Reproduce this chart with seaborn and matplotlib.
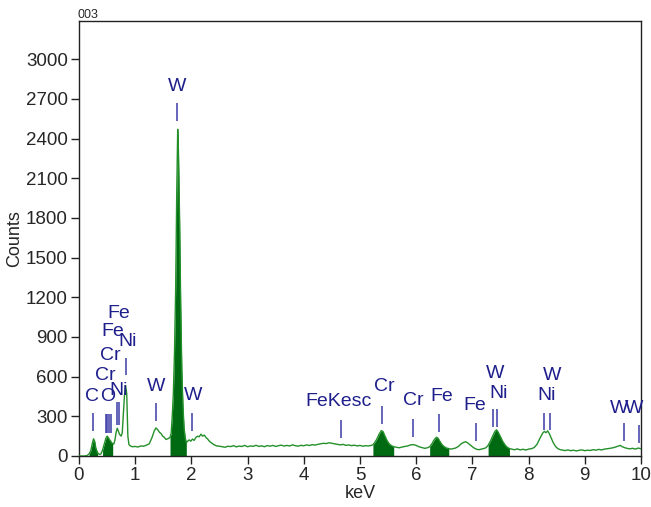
import matplotlib
matplotlib.use("Agg")
import matplotlib.pyplot as plt
import seaborn as sns
import pandas as pd

# --------------------------------------------------
# Spectrum (keV, counts)
# --------------------------------------------------
energy = [
    0.00, 0.10, 0.14, 0.18, 0.21, 0.24, 0.26, 0.28, 0.30, 0.33, 0.36, 0.39,
    0.42, 0.45, 0.48, 0.50, 0.52, 0.54, 0.56, 0.58, 0.60,
    0.62, 0.64, 0.66, 0.68, 0.70, 0.72, 0.75, 0.77, 0.79, 0.81, 0.83, 0.85,
    0.86, 0.87, 0.89, 0.92,
    0.95, 1.00, 1.05, 1.10, 1.15, 1.20, 1.25, 1.30, 1.34, 1.37, 1.40, 1.43,
    1.46, 1.49, 1.52, 1.55, 1.58,
    1.62, 1.64, 1.66, 1.68, 1.70, 1.72, 1.74, 1.757, 1.77, 1.79, 1.81, 1.83,
    1.85, 1.87, 1.89, 1.91,
    1.93, 1.96, 1.99, 2.02, 2.05, 2.08, 2.11, 2.14, 2.17, 2.20, 2.23, 2.26,
    2.29, 2.32, 2.36, 2.40, 2.45,
    2.50, 2.55, 2.60, 2.65, 2.70, 2.75, 2.80, 2.85, 2.90, 2.95, 3.00, 3.05,
    3.10, 3.15, 3.20, 3.25, 3.30, 3.35, 3.40, 3.45, 3.50, 3.55, 3.60, 3.65,
    3.70, 3.75, 3.80, 3.85, 3.90, 3.95, 4.00, 4.05, 4.10, 4.15, 4.20, 4.25,
    4.30, 4.35, 4.40, 4.45, 4.50, 4.55, 4.60, 4.65, 4.70, 4.75, 4.80, 4.85,
    4.90, 4.95, 5.00, 5.05, 5.10, 5.15, 5.20,
    5.23, 5.26, 5.30, 5.34, 5.38, 5.41, 5.44, 5.48, 5.52, 5.56, 5.60,
    5.65, 5.70, 5.75, 5.80, 5.85, 5.90, 5.95, 6.00, 6.05, 6.10, 6.15, 6.20,
    6.24, 6.28, 6.32, 6.36, 6.39, 6.42, 6.46, 6.50, 6.54, 6.58,
    6.62, 6.66, 6.70, 6.75, 6.80, 6.85, 6.88, 6.92, 6.96, 7.00, 7.04, 7.08,
    7.12, 7.16, 7.20, 7.24,
    7.28, 7.32, 7.36, 7.40, 7.43, 7.46, 7.50, 7.54, 7.58, 7.62, 7.66,
    7.70, 7.75, 7.80, 7.85, 7.90, 7.95, 8.00, 8.05, 8.10, 8.15, 8.20, 8.25,
    8.28, 8.31, 8.34, 8.37, 8.40, 8.44, 8.48, 8.52, 8.56,
    8.60, 8.65, 8.70, 8.75, 8.80, 8.85, 8.90, 8.95, 9.00, 9.05, 9.10, 9.15,
    9.20, 9.25, 9.30, 9.35, 9.40, 9.45, 9.50, 9.55, 9.60, 9.63, 9.66, 9.70,
    9.75, 9.80, 9.85, 9.90, 9.95, 10.00,
]
counts = [
    0, 0, 3, 15, 40, 100, 130, 110, 60, 25, 12, 15,
    45, 90, 135, 150, 140, 125, 115, 100, 95,
    90, 120, 175, 210, 190, 165, 150, 175, 320, 460, 530, 470,
    300, 150, 85, 75,
    70, 72, 68, 76, 74, 82, 92, 140, 190, 212, 200, 180,
    170, 150, 140, 125, 130,
    140, 170, 300, 480, 790, 1250, 2000, 2470, 2300, 1800, 1150, 650,
    380, 210, 140, 100,
    110, 122, 112, 128, 118, 140, 150, 145, 165, 150, 158, 140,
    128, 112, 98, 86, 76,
    74, 70, 66, 74, 71, 78, 69, 75, 72, 80, 70, 76,
    73, 81, 72, 77, 70, 79, 74, 80, 72, 78, 82, 75,
    80, 76, 84, 78, 74, 81, 77, 84, 79, 86, 82, 88,
    92, 96, 94, 100, 96, 92, 88, 84, 88, 80, 84, 78,
    82, 76, 80, 74, 78, 76, 80,
    85, 100, 128, 165, 192, 185, 155, 118, 92, 78, 70,
    66, 62, 68, 72, 76, 84, 86, 80, 70, 64, 58, 62,
    70, 92, 122, 142, 134, 112, 86, 70, 60, 56,
    52, 56, 60, 72, 92, 104, 108, 98, 84, 70, 58, 50,
    48, 52, 56, 62,
    80, 112, 150, 185, 198, 180, 145, 110, 84, 66, 56,
    52, 47, 54, 46, 51, 45, 52, 55, 64, 88, 132, 172,
    186, 176, 190, 168, 138, 100, 72, 56, 48,
    45, 41, 46, 40, 44, 38, 43, 46, 40, 44, 42, 48,
    44, 50, 46, 52, 55, 58, 62, 68, 76, 80, 72, 64,
    58, 54, 58, 52, 60, 55,
]
assert len(energy) == len(counts)

# shaded peak windows (keV)
fill_windows = [(0.17, 0.34), (0.41, 0.61), (1.61, 1.92),
                (5.22, 5.61), (6.23, 6.59), (7.27, 7.67)]

# --------------------------------------------------
# Element markers: text, text centre, marker line
# --------------------------------------------------
label_text = ["C", "O", "Cr", "Cr", "Fe", "Fe", "Ni", "Ni",
              "W", "W", "W", "FeKesc", "Cr", "Cr", "Fe", "Fe",
              "W", "Ni", "Ni", "W", "W", "W"]
label_x = [0.226, 0.504, 0.475, 0.564, 0.593, 0.712, 0.712, 0.859,
           1.738, 1.370, 2.034, 4.626, 5.432, 5.948, 6.454, 7.046,
           7.402, 7.461, 8.322, 8.411, 9.609, 9.884]
label_y = [448, 448, 612, 756, 939, 1078, 493, 864,
           2796, 524, 461, 410, 524, 423, 448, 385,
           625, 474, 461, 612, 360, 360]

marker_x = [0.249, 0.475, 0.504, 0.534, 0.564, 0.681, 0.712, 0.831,
            1.753, 1.370, 2.011, 4.656, 5.40, 5.95, 6.40, 7.06,
            7.37, 7.43, 8.28, 8.38, 9.69, 9.97]
marker_lo = [189, 174, 174, 174, 174, 234, 234, 612,
             2534, 267, 191, 134, 242, 146, 184, 113,
             219, 219, 196, 196, 116, 100]
marker_hi = [325, 317, 317, 317, 317, 410, 410, 741,
             2665, 398, 323, 272, 378, 277, 317, 249,
             355, 355, 325, 325, 252, 234]

y_ticks = [0, 300, 600, 900, 1200, 1500, 1800, 2100, 2400, 2700, 3000]
x_ticks = list(range(0, 11))

# --------------------------------------------------
# Plot
# --------------------------------------------------
sns.set_style("ticks")
plt.rcParams["font.family"] = ["Liberation Sans", "DejaVu Sans"]

df = pd.DataFrame({"keV": energy, "Counts": counts})

fig = plt.figure(figsize=(6.51, 5.07), dpi=100)
ax = fig.add_axes([0.1213, 0.1006, 0.8633, 0.8584])

line_green = "#24902a"
fill_green = "#006a12"
navy = "#1e1e8c"

for lo, hi in fill_windows:
    mask = (df["keV"] >= lo) & (df["keV"] <= hi)
    ax.fill_between(df["keV"], 0, df["Counts"], where=mask,
                    color=fill_green, linewidth=0, zorder=2)

sns.lineplot(data=df, x="keV", y="Counts", color=line_green,
             linewidth=1.0, ax=ax, zorder=3)

ax.vlines(marker_x, marker_lo, marker_hi, color="#3c3ca8", linewidth=1.1, zorder=4)
for t, x, y in zip(label_text, label_x, label_y):
    ax.text(x, y, t, ha="center", va="center", fontsize=14, color=navy, zorder=5)

ax.set_xlim(0, 10)
ax.set_ylim(0, 3290)
ax.set_xticks(x_ticks)
ax.set_yticks(y_ticks)
ax.tick_params(axis="both", labelsize=13.5, length=6, width=1, color="#222222",
               pad=2, direction="out")
ax.set_xlabel("keV", fontsize=13, labelpad=1)
ax.set_ylabel("Counts", fontsize=13, labelpad=2)
for s in ax.spines.values():
    s.set_visible(True)
    s.set_linewidth(1.0)
    s.set_color("#222222")

fig.text(77 / 651, 1 - 15 / 507, "003", fontsize=9, va="center", ha="left")

fig.savefig("out.png", dpi=100)
print("[OK] saved out.png")
